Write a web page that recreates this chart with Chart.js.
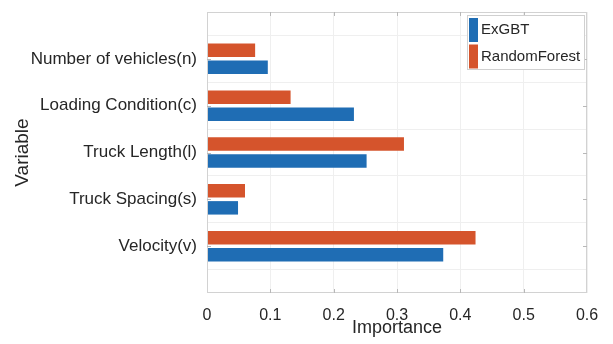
<!DOCTYPE html>
<html>
<head>
<meta charset="utf-8">
<script src="https://cdn.jsdelivr.net/npm/chart.js@4.4.0/dist/chart.umd.min.js"></script>
<style>
  html, body { margin: 0; padding: 0; background: #fff; }
  #wrap { width: 613px; height: 344px; }
</style>
</head>
<body>
<div id="wrap"><canvas id="chart" width="613" height="344"></canvas></div>
<script>
// categories, top to bottom (blank slots at the ends so grid lines fall on the box)
const categories = ['', 'Number of vehicles(n)', 'Loading Condition(c)', 'Truck Length(l)', 'Truck Spacing(s)', 'Velocity(v)', ''];
const exgbt = [null, 0.096, 0.232, 0.252, 0.049, 0.373, null];
const randomForest = [null, 0.076, 0.132, 0.311, 0.060, 0.424, null];
const xTickLabels = ['0', '0.1', '0.2', '0.3', '0.4', '0.5', '0.6'];

const blue = '#1f6db4';
const orange = '#d5542c';
const font = "'Liberation Sans', Arial, sans-serif";

// box outline, small inward ticks and legend, drawn after the chart
const boxPlugin = {
    id: 'box',
    afterDraw(chart) {
        const ctx = chart.ctx;
        const a = chart.chartArea;
        ctx.save();
        ctx.strokeStyle = '#d2d2d2';
        ctx.lineWidth = 1;
        ctx.strokeRect(a.left + 0.5, a.top + 0.5, a.right - a.left - 1, a.bottom - a.top - 1);

        // MATLAB-style inward ticks
        ctx.strokeStyle = '#b8b8b8';
        ctx.beginPath();
        const xs = chart.scales.x, ys = chart.scales.y;
        xs.ticks.forEach((t, i) => {
            if (i === 0 || i === xs.ticks.length - 1) return;
            const px = Math.round(xs.getPixelForTick(i)) + 0.5;
            ctx.moveTo(px, a.top); ctx.lineTo(px, a.top + 4);
            ctx.moveTo(px, a.bottom); ctx.lineTo(px, a.bottom - 4);
        });
        ys.ticks.forEach((t, i) => {
            if (i === 0 || i === ys.ticks.length - 1) return;
            const py = Math.round(ys.getPixelForTick(i)) + 0.5;
            ctx.moveTo(a.left, py); ctx.lineTo(a.left + 4, py);
            ctx.moveTo(a.right, py); ctx.lineTo(a.right - 4, py);
        });
        ctx.stroke();

        // legend (ExGBT first, like the original)
        const items = [chart.data.datasets[1], chart.data.datasets[0]];
        const lx = a.right - 120, ly = a.top + 3, lw = 117, lh = 54;
        ctx.fillStyle = '#fff';
        ctx.fillRect(lx, ly, lw, lh);
        ctx.strokeStyle = '#d0d0d0';
        ctx.strokeRect(lx + 0.5, ly + 0.5, lw, lh);
        ctx.font = '15px ' + font;
        ctx.textBaseline = 'middle';
        items.forEach((ds, i) => {
            ctx.fillStyle = ds.backgroundColor;
            ctx.fillRect(lx + 2, ly + 3 + i * 26.5, 9, 24);
            ctx.fillStyle = '#262626';
            ctx.fillText(ds.label, lx + 14, ly + 15 + i * 26.5);
        });
        ctx.restore();
    }
};

new Chart(document.getElementById('chart'), {
    type: 'bar',
    data: {
        labels: categories,
        datasets: [
            { label: 'RandomForest', data: randomForest, backgroundColor: orange },
            { label: 'ExGBT', data: exgbt, backgroundColor: blue }
        ]
    },
    options: {
        indexAxis: 'y',
        responsive: false,
        animation: false,
        layout: { padding: { top: 12, right: 26 } },
        datasets: {
            bar: { categoryPercentage: 0.727, barPercentage: 0.79 }
        },
        plugins: {
            legend: { display: false },
            tooltip: { enabled: false }
        },
        scales: {
            x: {
                type: 'linear',
                min: 0,
                max: 0.6,
                ticks: {
                    stepSize: 0.1,
                    padding: 13,
                    color: '#262626',
                    font: { family: font, size: 16 },
                    callback: (v, i) => xTickLabels[i]
                },
                grid: { color: '#efefef', drawTicks: false },
                border: { display: false },
                title: {
                    display: true,
                    text: 'Importance',
                    color: '#262626',
                    font: { family: font, size: 18 },
                    padding: { top: 0, bottom: 5 }
                },
                afterFit(scale) { scale.height = 51; }
            },
            y: {
                type: 'category',
                offset: false,
                ticks: {
                    padding: 10,
                    color: '#262626',
                    font: { family: font, size: 17 }
                },
                grid: { color: '#efefef', drawTicks: false },
                border: { display: false },
                title: {
                    display: true,
                    text: 'Variable',
                    color: '#262626',
                    font: { family: font, size: 19 },
                    padding: { top: 11, bottom: 0 }
                },
                afterFit(scale) {
                    scale.width = 207;
                    scale.paddingTop = 0;
                    scale.paddingBottom = 0;
                }
            }
        }
    },
    plugins: [boxPlugin]
});
</script>
</body>
</html>
